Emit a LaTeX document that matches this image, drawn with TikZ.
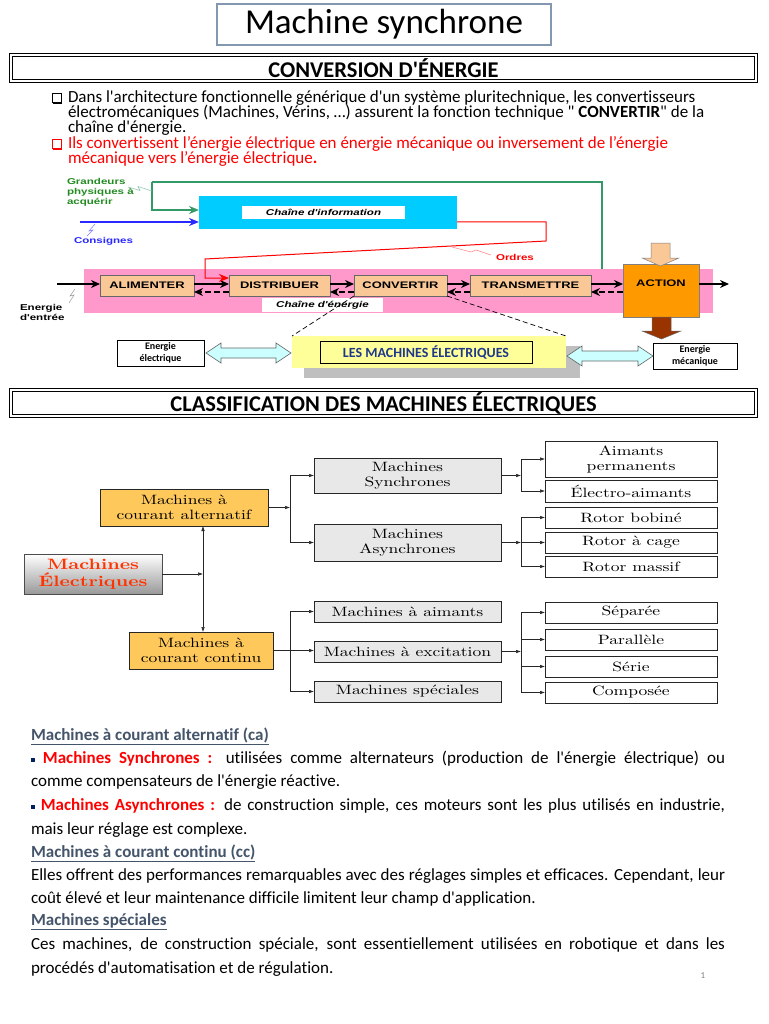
\documentclass[tikz,border=0pt]{standalone}
\usepackage{fontspec}
\newfontfamily\calib{Carlito}[Ligatures=NoCommon]
\newfontfamily\arialx{Liberation Sans}[FakeStretch=1.36]
\newfontfamily\lmx{lmroman10-regular.otf}[FakeStretch=1.3,BoldFont=lmroman10-bold.otf]
\usetikzlibrary{arrows.meta,calc}
\definecolor{titleblue}{RGB}{132,151,176}
\definecolor{infocyan}{RGB}{0,204,255}
\definecolor{pinkband}{RGB}{255,153,204}
\definecolor{peach}{RGB}{250,200,150}
\definecolor{actionor}{RGB}{255,153,0}
\definecolor{brownar}{RGB}{153,51,0}
\definecolor{yellowbox}{RGB}{255,255,153}
\definecolor{shadowgray}{RGB}{191,191,191}
\definecolor{lcyan}{RGB}{204,255,255}
\definecolor{dblue}{RGB}{31,56,140}
\definecolor{gline}{RGB}{51,153,102}
\definecolor{gtext}{RGB}{34,139,34}
\definecolor{bline}{RGB}{40,40,255}
\definecolor{boxorange}{RGB}{255,200,90}
\definecolor{boxgray}{RGB}{232,232,232}
\definecolor{headblue}{RGB}{68,84,106}
\definecolor{bulblue}{RGB}{0,32,96}
\definecolor{elecred}{RGB}{255,51,0}
\newcommand\bul{{\color{bulblue}\rule[1.5pt]{4pt}{4pt}}}
\begin{document}
\begin{tikzpicture}[x=1pt,y=-1pt,
  every node/.style={inner sep=0pt,outer sep=0pt},
  chainfont/.style={font=\arialx\bfseries\fontsize{9.5}{11}\selectfont},
  chainlbl/.style={font=\arialx\bfseries\fontsize{8.5}{10}\selectfont},
  chainit/.style={font=\arialx\bfseries\itshape\fontsize{8.5}{10}\selectfont},
  fbox/.style={chainfont,draw=black!60,line width=0.6pt,fill=peach,minimum height=21pt},
  barr/.style={line width=1.4pt,-{Stealth[length=9pt,width=8pt]}},
  secbox/.style={draw,double,double distance=1.5pt,line width=0.9pt,minimum width=745pt,minimum height=26pt,font=\calib\bfseries\fontsize{22.5}{24}\selectfont},
  btext/.style={anchor=base west,font=\calib\fontsize{17}{18}\selectfont},
  body/.style={anchor=base west,font=\calib\fontsize{17}{20}\selectfont},
  head/.style={body,text=headblue,font=\calib\bfseries\fontsize{17}{20}\selectfont},
  cl/.style={font=\lmx\fontsize{13.5}{15}\selectfont,align=center,line width=0.6pt,draw=black!85},
  gbox/.style={cl,fill=boxgray,minimum width=187pt},
  wbox/.style={cl,fill=white,minimum width=172pt},
  obox/.style={cl,fill=boxorange},
  carr/.style={line width=0.5pt,draw=black!85,-{Latex[length=5pt,width=3.5pt]}},
  cline/.style={line width=0.5pt,draw=black!85},
  ebox/.style={draw,line width=0.6pt,fill=white,align=center,font=\calib\bfseries\fontsize{10}{12}\selectfont}
]
\useasboundingbox[fill=white] (0,0) rectangle (768,1024);

% ---------- title and headers
\node[draw=titleblue,line width=1.2pt,minimum width=334pt,minimum height=41pt,font=\calib\fontsize{35}{36}\selectfont] (title) at (384,24.5) {Machine synchrone};
\node[secbox] (sec1) at (383.5,68) {CONVERSION D'ÉNERGIE};

% ---------- bullets of the first block
\foreach \y/\c in {98/black,144/red}{
  \draw[\c,line width=0.6pt] (52,\y-4.5) rectangle (61,\y+4.5);
  \draw[\c,line width=1.3pt] (53,\y+5.2) -- (61.7,\y+5.2) -- (61.7,\y-3.5);
}
\node[btext] (p1) at (68,103) {Dans l'architecture fonctionnelle générique d'un système pluritechnique, les convertisseurs};
\node[btext] (p2) at (68,118) {électromécaniques (Machines, Vérins, …) assurent la fonction technique " \textbf{CONVERTIR}" de la};
\node[btext] (p3) at (68,133) {chaîne d'énergie.};
\node[btext,text=red] (p4) at (68,149) {Ils convertissent l’énergie électrique en énergie mécanique ou inversement de l’énergie};
\node[btext,text=red] (p5) at (68,164) {mécanique vers l’énergie électrique\textbf{.}};

% ---------- chain diagram
\node[fill=pinkband,minimum width=629pt,minimum height=44pt] (band) at (398.5,291) {};
\node[fill=infocyan,minimum width=258pt,minimum height=33pt] (info) at (328,212.5) {};
\node[fill=white,minimum width=163pt,minimum height=13pt,chainit] (infolbl) at (323.5,212.5) {Chaîne d'information};
\node[fill=white,minimum width=121pt,minimum height=14pt,chainit] (celbl) at (322.5,305) {Chaîne d'énergie};

\node[fbox,minimum width=94pt] (alim) at (147,285.5) {ALIMENTER};
\node[fbox,minimum width=101pt] (distr) at (279.5,285.5) {DISTRIBUER};
\node[fbox,minimum width=93pt] (conv) at (400.5,285.5) {CONVERTIR};
\node[fbox,minimum width=121pt] (trans) at (530.5,285.5) {TRANSMETTRE};
\node[draw=black!50,line width=0.6pt,fill=actionor,minimum width=76pt,minimum height=53pt] (action) at (661,290.5) {};
\node[chainfont] (actiontxt) at ([yshift=7.5pt]action.center) {ACTION};

% block arrows at ACTION
\filldraw[fill=peach,draw=black!50,line width=0.5pt] (651,243) -- (670,243) -- (670,258) -- (679,258) -- (660.5,266) -- (642,258) -- (651,258) -- cycle;
\filldraw[fill=brownar,draw=black!60,line width=0.5pt] (652,317) -- (671,317) -- (671,331) -- (681,331) -- (661.5,339) -- (642,331) -- (652,331) -- cycle;

% arrows between functional blocks
\foreach \a/\b in {alim/distr,distr/conv,conv/trans,trans/action}{
  \coordinate (\a-s) at ($(\a.east)+(0,-1.5)$);
  \coordinate (\a-d) at ($(\a.east)+(0,6.5)$);
  \draw[barr] (\a-s) -- (\a-s -| \b.west);
  \draw[barr,dash pattern=on 6pt off 3pt] (\a-d -| \b.west) -- (\a-d);
}
\coordinate (ein) at (57,284);
\draw[barr] (ein) -- (ein -| alim.west);
\coordinate (eout) at (729,284);
\draw[barr] (eout -| action.east) -- (eout);

% information links
\coordinate (g0) at (152,182);
\coordinate (g1) at (602,182);
\draw[gline,line width=1.6pt,-{Stealth[length=10pt,width=8pt]}] (g0) |- ([yshift=2.5pt]info.west);
\draw[gline,line width=1.6pt] (g0) -| (g1 |- band.north);
\coordinate (cons) at (80,222);
\draw[bline,line width=1.6pt,-{Stealth[length=10pt,width=8pt]}] (cons) -- (cons -| info.west);
\coordinate (r1) at (546,241);
\coordinate (r2) at (205,259);
\draw[red,line width=1pt,-{Stealth[length=10pt,width=8pt]}] ([yshift=-9.5pt]info.east) -| (r1) -- (r2) |- ([yshift=7.5pt]distr.west);

% labels
\node[chainlbl,text=gtext,align=left,anchor=north west] (grand) at (67,178) {Grandeurs\\physiques à\\acquérir};
\node[chainlbl,text=bline,anchor=west] (consl) at (74,241) {Consignes};
\node[chainlbl,text=red,anchor=west] (ordl) at (496,257) {Ordres};
\node[chainlbl,align=left,anchor=west] (elbl) at (20,312.5) {Energie\\d'entrée};
% lightning marks
\draw[gline!60,line width=0.5pt] (128,187) -- (140,190.5) -- (138,186.5) -- (152,191);
\draw[bline!60,line width=0.5pt] (95,224) -- (89,231) -- (93,230) -- (87,236);
\draw[red!50,line width=0.5pt] (452,247) -- (471,252) -- (476,250) -- (491,255);
\draw[black!40,line width=0.5pt] (75,289) -- (70,296) -- (74,295) -- (69,303);

% machines box
\fill[shadowgray] (304,346) rectangle (580,378);
\node[fill=yellowbox,minimum width=274pt,minimum height=32pt] (yel) at (429,352) {};
\node[draw,line width=0.6pt,minimum width=212pt,minimum height=22pt,text=dblue,font=\calib\bfseries\fontsize{14}{15}\selectfont] (lesm) at (426,352) {LES MACHINES ÉLECTRIQUES};
\draw[line width=0.7pt,dash pattern=on 5pt off 3pt] (conv.south west) -- (yel.north west);
\draw[line width=0.7pt,dash pattern=on 5pt off 3pt] (conv.south east) -- (yel.north east);
\node[ebox,minimum width=87pt,minimum height=26pt] (eel) at (160.5,353) {Energie\\électrique};
\node[ebox,minimum width=84pt,minimum height=26pt] (emec) at (695,356) {Energie\\mécanique};
\filldraw[fill=lcyan,draw=black!60,line width=0.6pt] (206,353) -- (221,343) -- (221,348) -- (276,348) -- (276,343) -- (291,353) -- (276,363) -- (276,358) -- (221,358) -- (221,363) -- cycle;
\filldraw[fill=lcyan,draw=black!60,line width=0.6pt] (567,356) -- (582,346) -- (582,351) -- (638,351) -- (638,346) -- (653,356) -- (638,366) -- (638,361) -- (582,361) -- (582,366) -- cycle;

% ---------- classification
\node[secbox] (sec2) at (383.5,403) {CLASSIFICATION DES MACHINES ÉLECTRIQUES};

\node[cl,minimum width=138pt,minimum height=40pt,top color=white,bottom color=black!40,draw=black!70,font=\lmx\bfseries\fontsize{15}{17}\selectfont,text=elecred] (elec) at (93,574) {Machines\\Électriques};
\node[obox,minimum width=168pt,minimum height=37pt] (alt) at (184,507.5) {Machines à\\courant alternatif};
\node[obox,minimum width=144pt,minimum height=37pt] (cont) at (201,650.5) {Machines à\\courant continu};
\node[gbox,minimum height=35pt] (sync) at (407.5,475.5) {Machines\\Synchrones};
\node[gbox,minimum height=37pt] (async) at (407.5,542.5) {Machines\\Asynchrones};
\node[gbox,minimum height=21pt] (aim) at (407.5,611.5) {Machines à aimants};
\node[gbox,minimum height=21pt] (exc) at (407.5,651.5) {Machines à excitation};
\node[gbox,minimum height=21pt] (spec) at (407.5,691.5) {Machines spéciales};
\node[wbox,minimum height=36pt] (perm) at (631,459) {Aimants\\permanents};
\node[wbox,minimum height=22pt] (electro) at (631,491) {Électro-aimants};
\node[wbox,minimum height=21pt] (bob) at (631,517.5) {Rotor bobiné};
\node[wbox,minimum height=21pt] (cage) at (631,542.5) {Rotor à cage};
\node[wbox,minimum height=21pt] (mass) at (631,566.5) {Rotor massif};
\node[wbox,minimum height=21pt] (sep) at (631,612.5) {Séparée};
\node[wbox,minimum height=21pt] (par) at (631,639.5) {Parallèle};
\node[wbox,minimum height=21pt] (ser) at (631,666.5) {Série};
\node[wbox,minimum height=21pt] (comp) at (631,692.5) {Composée};

\coordinate (v1) at (203,576);
\coordinate (v2) at (290,0);
\coordinate (v3) at (521,0);
\draw[carr] (elec.east) -- (elec.east -| v1);
\draw[line width=0.5pt,draw=black!85,{Latex[length=5pt,width=3.5pt]}-{Latex[length=5pt,width=3.5pt]}] (alt.south -| v1) -- (cont.north -| v1);
\draw[carr] (alt.east) -- (alt.east -| v2);
\draw[cline] (v2 |- sync.west) -- (v2 |- async.west);
\draw[carr] (v2 |- sync.west) -- (sync.west);
\draw[carr] (v2 |- async.west) -- (async.west);
\draw[carr] (cont.east) -- (cont.east -| exc.west);
\draw[cline] (v2 |- aim.west) -- (v2 |- spec.west);
\draw[carr] (v2 |- aim.west) -- (aim.west);
\draw[carr] (v2 |- spec.west) -- (spec.west);
\draw[carr] (sync.east) -- (sync.east -| v3);
\draw[cline] (v3 |- perm.west) -- (v3 |- electro.west);
\foreach \t in {perm,electro} \draw[carr] (v3 |- \t.west) -- (\t.west);
\draw[carr] (async.east) -- (async.east -| v3);
\draw[cline] (v3 |- bob.west) -- (v3 |- mass.west);
\foreach \t in {bob,cage,mass} \draw[carr] (v3 |- \t.west) -- (\t.west);
\draw[carr] (exc.east) -- (exc.east -| v3);
\draw[cline] (v3 |- sep.west) -- (v3 |- comp.west);
\foreach \t in {sep,par,ser,comp} \draw[carr] (v3 |- \t.west) -- (\t.west);

% ---------- bottom text
\node[head] (h1) at (31,740) {\underline{Machines à courant alternatif (ca)}};
\node[body] (t1) at (31,763) {\makebox[694pt][s]{\bul\ \textcolor{red}{\textbf{Machines Synchrones :}} utilisées comme alternateurs (production de l'énergie électrique) ou}};
\node[body] (t2) at (31,786) {comme compensateurs de l'énergie réactive.};
\node[body] (t3) at (31,810) {\makebox[694pt][s]{\bul\ \textcolor{red}{\textbf{Machines Asynchrones :}} de construction simple, ces moteurs sont les plus utilisés en industrie,}};
\node[body] (t4) at (31,834) {mais leur réglage est complexe.};
\node[head] (h2) at (31,857) {\underline{Machines à courant continu (cc)}};
\node[body] (t5) at (31,880) {\makebox[694pt][s]{Elles offrent des performances remarquables avec des réglages simples et efficaces. Cependant, leur}};
\node[body] (t6) at (31,903) {coût élevé et leur maintenance difficile limitent leur champ d'application.};
\node[head] (h3) at (31,925) {\underline{Machines spéciales}};
\node[body] (t7) at (31,949) {\makebox[694pt][s]{Ces machines, de construction spéciale, sont essentiellement utilisées en robotique et dans les}};
\node[body] (t8) at (31,973) {procédés d'automatisation et de régulation.};
\node[text=black!50,font=\calib\fontsize{9}{10}\selectfont] (pg) at (703,976) {1};
\end{tikzpicture}
\end{document}
